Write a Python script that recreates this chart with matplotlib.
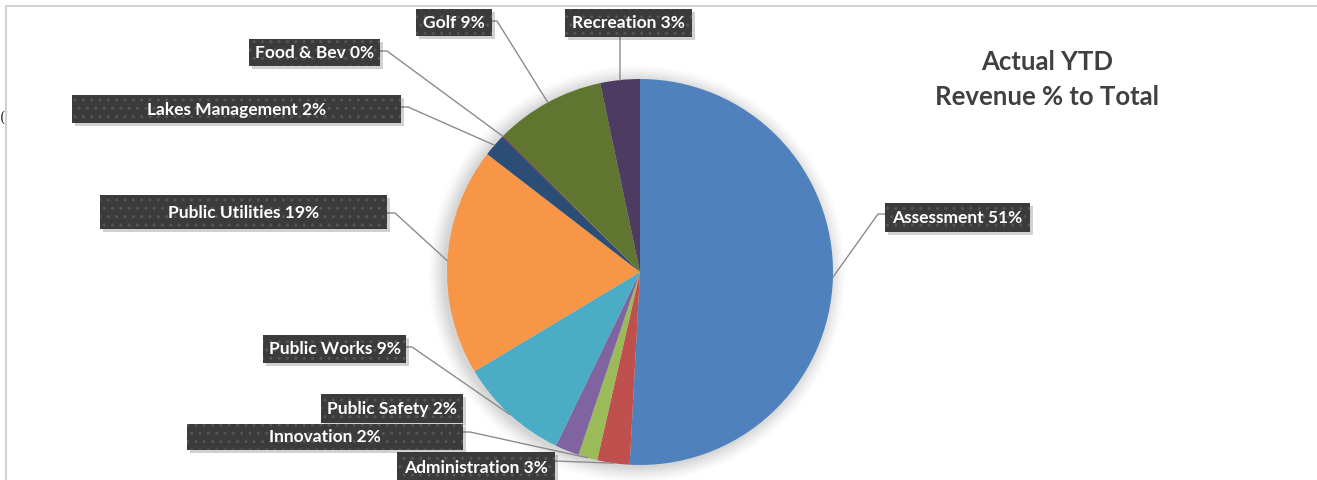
import matplotlib
matplotlib.use("Agg")
import matplotlib.pyplot as plt
from matplotlib.patches import Rectangle, Circle
import numpy as np

# ---- data ----
categories = ["Assessment", "Administration", "Innovation", "Public Safety",
              "Public Works", "Public Utilities", "Lakes Management",
              "Food & Bev", "Golf", "Recreation"]
values = [50.7, 2.7, 1.6, 2.0, 9.2, 19.0, 1.9, 0.1, 9.2, 3.3]
colors = ["#4F81BD", "#C0504D", "#9BBB59", "#8064A2", "#4BACC6",
          "#F79646", "#2C4D75", "#772C2A", "#5F7530", "#4D3B62"]
title_lines = ["Actual YTD", "Revenue % to Total"]

# ---- layout (image pixel coords, y down) ----
W, H = 1317, 481
CX, CY, R = 640, 273, 193
boxes = {
    "Assessment": (885, 204, 1030, 233),
    "Administration": (397, 453, 555, 485),
    "Innovation": (187, 425, 463, 451),
    "Public Safety": (321, 395, 463, 424),
    "Public Works": (263, 336, 406, 364),
    "Public Utilities": (100, 196, 387, 230),
    "Lakes Management": (72, 96, 401, 124),
    "Food & Bev": (249, 40, 380, 67),
    "Golf": (416, 10, 492, 37),
    "Recreation": (565, 10, 692, 38),
}
leader_start = {
    "Assessment": [(885, 215), (878, 215)],
    "Administration": [(555, 462)],
    "Innovation": [(463, 433), (470, 433)],
    "Public Safety": None,
    "Public Works": [(406, 348), (412, 348)],
    "Public Utilities": [(387, 214), (395, 214)],
    "Lakes Management": [(401, 108), (408, 108)],
    "Food & Bev": [(380, 52), (387, 52)],
    "Golf": [(492, 22), (497, 22)],
    "Recreation": [(620, 38)],
}

def P(x, y):
    return x, H - y

fig = plt.figure(figsize=(W / 100, H / 100), dpi=100)
ax = fig.add_axes([0, 0, 1, 1])

# frame
ax.plot([6, 6, W + 5], [0, H - 7, H - 7], color="#c8c8c8", lw=1.2, zorder=1)
ax.text(0, H - 118, "(", fontsize=10, family="DejaVu Serif", va="center",
        ha="left", color="#222222")

# soft glow behind pie
for i in range(12):
    ax.add_patch(Circle(P(CX - 3, CY + 2), R + 16 - i * 1.4, color="#808080",
                        alpha=0.012 + i * 0.003, lw=0, zorder=2))

cx, cy = P(CX, CY)
explode = [0.01] + [0] * (len(values) - 1)
wedges, _ = ax.pie(values, colors=colors, startangle=90, counterclock=False,
                   radius=R, center=(cx, cy), explode=explode,
                   wedgeprops=dict(linewidth=0))
for w in wedges:
    w.set_zorder(3)
ax.set_xlim(0, W)
ax.set_ylim(0, H)
ax.set_aspect("equal")
ax.axis("off")

total = sum(values)
for w, cat, v in zip(wedges, categories, values):
    mid = np.deg2rad((w.theta1 + w.theta2) / 2)
    wx, wy = w.center
    ex, ey = wx + R * np.cos(mid), wy + R * np.sin(mid)
    pts = leader_start[cat]
    if pts is not None:
        xs = [P(*p)[0] for p in pts] + [ex]
        ys = [P(*p)[1] for p in pts] + [ey]
        ax.plot(xs, ys, color="#8c8c8c", lw=1.0, zorder=4)
    x0, y0, x1, y1 = boxes[cat]
    ax.add_patch(Rectangle((x0 + 3, H - y1 - 3), x1 - x0, y1 - y0,
                           facecolor="#000000", alpha=0.18, lw=0, zorder=5))
    ax.add_patch(Rectangle((x0, H - y1), x1 - x0, y1 - y0,
                           facecolor="#3b3b3b", edgecolor="#555555", lw=0,
                           hatch="..", zorder=6))
    ax.text((x0 + x1) / 2, H - (y0 + y1) / 2 + 0.5,
            f"{cat} {round(v / total * 100)}%",
            ha="center", va="center", color="white", fontsize=12.5,
            fontweight="bold", family="Lato", zorder=7)

ax.text(1047, H - 62, title_lines[0], ha="center", va="center",
        fontsize=18.5, fontweight="bold", family="Lato", color="#404040", zorder=7)
ax.text(1047, H - 97, title_lines[1], ha="center", va="center",
        fontsize=18.5, fontweight="bold", family="Lato", color="#404040", zorder=7)

fig.savefig("out.png", dpi=100, facecolor="white")
